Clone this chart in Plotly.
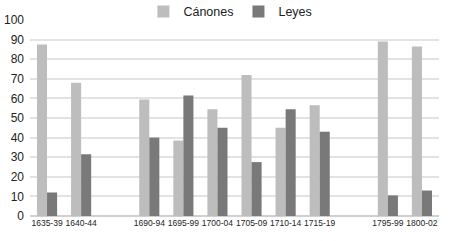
import plotly.graph_objects as go

categories = ["1635-39", "1640-44", " ", "1690-94", "1695-99", "1700-04",
              "1705-09", "1710-14", "1715-19", "  ", "1795-99", "1800-02"]
canones = [87.5, 68, None, 59.5, 38.5, 54.5, 72, 45, 56.5, None, 89, 86.5]
leyes = [12, 31.5, None, 40, 61.5, 45, 27.5, 54.5, 43, None, 10.5, 13]

fig = go.Figure()
fig.add_trace(go.Bar(name="Cánones", x=categories, y=canones,
                     marker=dict(color="#bdbdbd", line=dict(width=0))))
fig.add_trace(go.Bar(name="Leyes", x=categories, y=leyes,
                     marker=dict(color="#797979", line=dict(width=0))))

fig.update_layout(
    width=450, height=241,
    margin=dict(l=30, r=11, t=20, b=25, autoexpand=False),
    paper_bgcolor="white", plot_bgcolor="white",
    barmode="group", bargap=0.41, bargroupgap=0,
    font=dict(family="Liberation Sans, Arial, sans-serif", color="#222222", size=11),
    legend=dict(orientation="h", x=0.49, xanchor="center", y=1.041, yanchor="middle",
                font=dict(size=12.5, family="Liberation Sans, Arial, sans-serif"),
                itemwidth=30, traceorder="normal", bgcolor="rgba(0,0,0,0)",
                tracegroupgap=0),
    showlegend=True,
)
fig.update_xaxes(type="category", showgrid=False, ticks="", showline=False, tickangle=0,
                 tickfont=dict(size=8.5, family="Liberation Sans, Arial, sans-serif"))
fig.update_yaxes(range=[0, 100], dtick=10, showgrid=True, gridcolor="#e3e3e3", gridwidth=1.5,
                 zeroline=True, zerolinecolor="#d0d0d0", zerolinewidth=1.5,
                 tickfont=dict(size=12), ticks="", ticklabelstandoff=5)

fig.write_html("out.html", config={"displayModeBar": False},
               post_script="document.body.style.margin='0';document.body.style.overflow='hidden';")
